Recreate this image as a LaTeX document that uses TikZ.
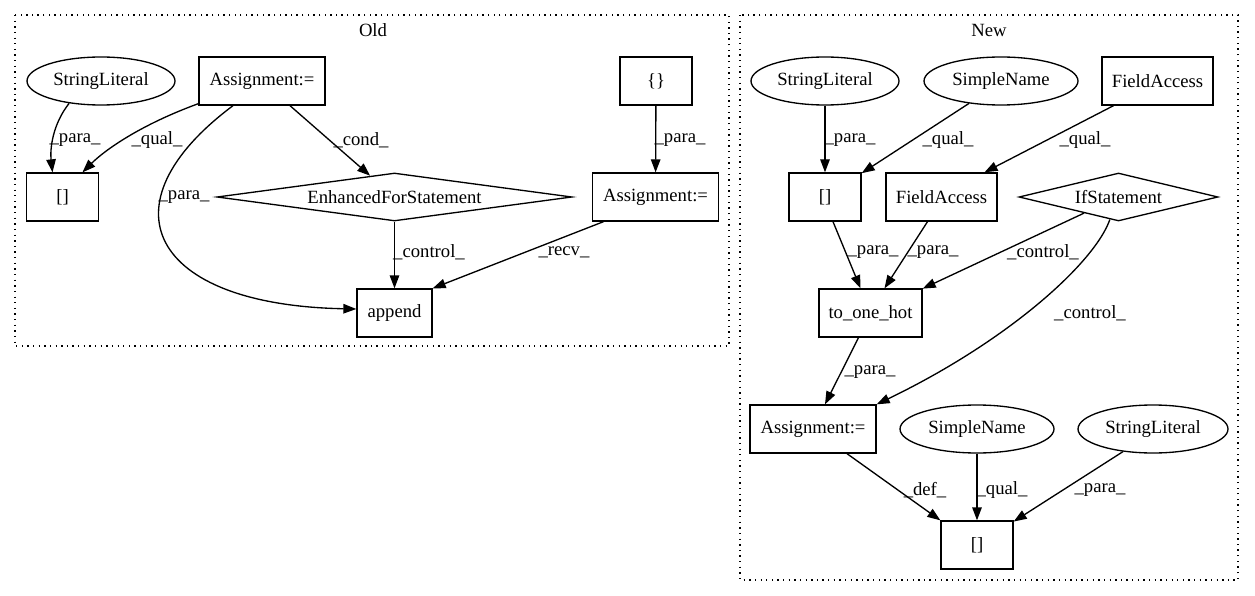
\documentclass[tikz,border=0pt]{standalone}
\usepackage{fontspec}
\setmainfont{Liberation Serif}
\usetikzlibrary{shapes.geometric,arrows.meta}
\begin{document}
\begin{tikzpicture}[x=1pt,y=-1pt,line width=1.33pt,
		font=\fontsize{18.67}{22}\selectfont,
		box/.style={draw,rectangle,inner sep=0pt,minimum height=48pt},
		oval/.style={draw,ellipse,inner sep=0pt,minimum height=48pt},
		cond/.style={draw,diamond,inner sep=0pt,minimum height=48pt},
		lbl/.style={inner sep=0pt},
		e/.style={-{Triangle[length=13pt,width=9.5pt]}},
		cluster/.style={dash pattern=on 1.33pt off 4.3pt}]
	\useasboundingbox (0,0) rectangle (1255,596);
	\draw[cluster] (15,15) rectangle (729,346);
	\draw[cluster] (740,15) rectangle (1238,580);
	\node (old) at (373,30) {Old};
	\node (new) at (989,30) {New};
	
	\node[oval,minimum width=148pt] (sl_o) at (101,81) {StringLiteral};
	\node[box,minimum width=126pt] (asg_o) at (262,81) {Assignment:=};
	\node[box,minimum width=72pt] (brc) at (656,81) {\{\}};
	\node[box,minimum width=72pt] (br_o) at (62.5,197) {[]};
	\node[cond,minimum width=355pt,aspect=7.4] (efs) at (394.5,197) {EnhancedForStatement};
	\node[box,minimum width=126pt] (asg_r) at (655.5,197) {Assignment:=};
	\node[box,minimum width=75pt] (app_o) at (394.5,313) {append};
	
	\draw[e] (sl_o.215) .. controls (52,125) and (50,150) .. ([xshift=-10pt]br_o.north) node[lbl] at (75,140) {\_para\_};
	\draw[e] ([yshift=2pt]asg_o.south west) .. controls (140,125) and (105,150) .. ([xshift=20pt]br_o.north) node[lbl] at (157,140) {\_qual\_};
	\draw[e] ([xshift=-29pt]asg_o.south) .. controls (100,205) and (150,305) .. ([yshift=4pt]app_o.west) node[lbl] at (184,197) {\_para\_};
	\draw[e] ([xshift=28pt]asg_o.south) -- (efs) node[lbl] at (361,140) {\_cond\_};
	\draw[e] (efs) -- (app_o) node[lbl] at (429,252) {\_control\_};
	\draw[e] (brc) -- (asg_r) node[lbl] at (680,140) {\_para\_};
	\draw[e] ([xshift=-52pt]asg_r.south) -- (app_o.north east) node[lbl] at (564,252) {\_recv\_};
	
	\node[oval,minimum width=148pt] (sl_n1) at (825,81) {StringLiteral};
	\node[oval,minimum width=154pt] (sn_n1) at (1001,81) {SimpleName};
	\node[box,minimum width=111pt] (fa_n1) at (1157.5,81) {FieldAccess};
	\node[box,minimum width=72pt] (br_n1) at (825,197) {[]};
	\node[box,minimum width=111pt] (fa_n2) at (941.5,197) {FieldAccess};
	\node[cond,minimum width=199pt,aspect=4.1] (ifs) at (1118.5,197) {IfStatement};
	\node[box,minimum width=103pt] (toh) at (870.5,313) {to\_one\_hot};
	\node[box,minimum width=126pt] (asg_n) at (813,429) {Assignment:=};
	\node[oval,minimum width=154pt] (sn_n2) at (977,429) {SimpleName};
	\node[oval,minimum width=150pt] (sl_n2) at (1153,429) {StringLiteral};
	\node[box,minimum width=72pt] (br_n2) at (977,545) {[]};
	
	\draw[e] (sl_n1) -- (br_n1) node[lbl] at (850,140) {\_para\_};
	\draw[e] (sn_n1.215) -- (br_n1) node[lbl] at (948,140) {\_qual\_};
	\draw[e] ([xshift=-44pt]fa_n1.south) -- ([xshift=43pt]fa_n2.north) node[lbl] at (1085,140) {\_qual\_};
	\draw[e] ([xshift=8pt]br_n1.south) -- ([xshift=-10pt]toh.north) node[lbl] at (873,252) {\_para\_};
	\draw[e] ([xshift=-14pt]fa_n2.south) -- ([xshift=14pt]toh.north) node[lbl] at (933,252) {\_para\_};
	\draw[e] (ifs) -- (toh) node[lbl] at (1043,252) {\_control\_};
	\draw[e] (ifs.249) .. controls (1095,262) and (1010,340) .. (asg_n.north east) node[lbl] at (1090,313) {\_control\_};
	\draw[e] ([xshift=-12pt]toh.south) -- ([xshift=12pt]asg_n.north) node[lbl] at (870,372) {\_para\_};
	\draw[e] ([xshift=34pt]asg_n.south) -- (br_n2.north west) node[lbl] at (925,490) {\_def\_};
	\draw[e] (sn_n2) -- (br_n2) node[lbl] at (1002,490) {\_qual\_};
	\draw[e] (sl_n2.217) -- (br_n2) node[lbl] at (1100,490) {\_para\_};
\end{tikzpicture}
\end{document}
